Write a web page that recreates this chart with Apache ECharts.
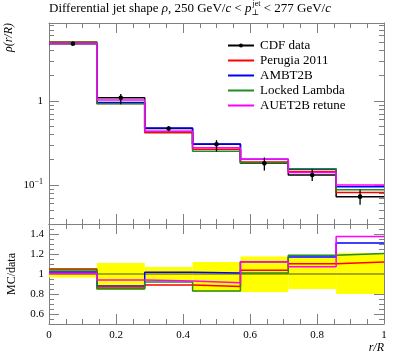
<!DOCTYPE html>
<html><head><meta charset="utf-8">
<script src="https://cdn.jsdelivr.net/npm/echarts@6/dist/echarts.min.js"></script>
<style>html,body{margin:0;padding:0;background:#fff}#c{width:397px;height:358px}</style>
</head><body><div id="c"></div>
<script>
// ---- data ----
const binEdges = [0, 0.142857, 0.285714, 0.428571, 0.571429, 0.714286, 0.857143, 1];
const cdfData = [4.81, 1.09, 0.47, 0.305, 0.181, 0.1315, 0.0726];
const cdfRelLow = [0.965, 0.84, 0.93, 0.82, 0.82, 0.85, 0.80];
const cdfRelHigh = [1.06, 1.11, 1.07, 1.12, 1.175, 1.16, 1.21];
const perugia2011 = [5.05, 0.937, 0.418, 0.267, 0.188, 0.145, 0.0813];
const ambt2b = [4.91, 0.959, 0.478, 0.308, 0.203, 0.154, 0.0951];
const lockedLambda = [5.00, 0.927, 0.432, 0.253, 0.183, 0.156, 0.0875];
const auet2bRetune = [4.83, 1.025, 0.437, 0.278, 0.203, 0.141, 0.0998];
const xTickLabels = [0, 0.2, 0.4, 0.6, 0.8, 1];
const logMajorTicks = [0.1, 1];
const logMinorTicks = [0.04,0.05,0.06,0.07,0.08,0.09,0.2,0.3,0.4,0.5,0.6,0.7,0.8,0.9,2,3,4,5,6,7,8];
const ratioMajorTicks = [0.6, 0.8, 1, 1.2, 1.4];
const ratioMinorTicks = [0.55,0.65,0.7,0.75,0.85,0.9,0.95,1.05,1.1,1.15,1.25,1.3,1.35,1.45];

const mcSeries = [
  {name: 'Perugia 2011', values: perugia2011, color: '#ff0000'},
  {name: 'AMBT2B', values: ambt2b, color: '#0000ff'},
  {name: 'Locked Lambda', values: lockedLambda, color: '#228b22'},
  {name: 'AUET2B retune', values: auet2bRetune, color: '#ff00ff'}
];

const SERIF = '"Liberation Serif", "DejaVu Serif", serif';
const AX = '#808080';

function stepData(vals) {
  return binEdges.map((e, i) => [e, vals[Math.min(i, vals.length - 1)]]);
}
const centers = cdfData.map((v, i) => (binEdges[i] + binEdges[i + 1]) / 2);

function xAxisCfg(grid, pos, labels) {
  return {
    type: 'value', gridIndex: grid, position: pos, min: 0, max: 1, interval: 0.2,
    axisLine: {show: true, lineStyle: {color: AX, width: 1}},
    axisTick: {show: true, inside: true, length: 10, lineStyle: {color: AX}},
    minorTick: {show: true, splitNumber: 4, length: 5, lineStyle: {color: AX}},
    splitLine: {show: false}, minorSplitLine: {show: false},
    axisLabel: {show: labels, margin: 6, color: '#000', fontFamily: SERIF, fontSize: 11,
      formatter: v => String(v)}
  };
}
function yLogCfg(pos, ticks, len, labels, line) {
  return {
    type: 'log', logBase: 10, gridIndex: 0, position: pos, min: 0.0343, max: 8.49,
    axisLine: {show: line, lineStyle: {color: AX, width: 1}},
    axisTick: {show: true, inside: true, length: len, customValues: ticks, lineStyle: {color: AX}},
    splitLine: {show: false},
    axisLabel: {show: labels, customValues: logMajorTicks, margin: 6, color: '#000',
      fontFamily: SERIF, fontSize: 11,
      formatter: v => (Math.abs(v - 1) < 1e-9 ? '1' : '10{s|−1}'),
      rich: {s: {fontSize: 8, verticalAlign: 'top', padding: [0,0,6,0], fontFamily: SERIF}}}
  };
}
function yRatioCfg(pos, ticks, len, labels, line) {
  return {
    type: 'value', gridIndex: 1, position: pos, min: 0.5, max: 1.5,
    axisLine: {show: line, lineStyle: {color: AX, width: 1}},
    axisTick: {show: true, inside: true, length: len, customValues: ticks, lineStyle: {color: AX}},
    splitLine: {show: false},
    axisLabel: {show: labels, customValues: ratioMajorTicks, margin: 5, color: '#000',
      fontFamily: SERIF, fontSize: 11, formatter: v => String(+v.toFixed(2))}
  };
}

const series = [];
// ratio band
series.push({
  type: 'custom', xAxisIndex: 2, yAxisIndex: 4, z: 1, silent: true,
  data: cdfData.map((v, i) => [binEdges[i], binEdges[i + 1], cdfRelLow[i], cdfRelHigh[i]]),
  renderItem(params, api) {
    const a = api.coord([api.value(0), api.value(3)]);
    const b = api.coord([api.value(1), api.value(2)]);
    return {type: 'rect', shape: {x: a[0], y: a[1], width: b[0] - a[0], height: b[1] - a[1]},
      style: {fill: '#ffff00'}};
  }
});
// data reference line in ratio
series.push({
  type: 'line', xAxisIndex: 2, yAxisIndex: 4, step: 'end', symbol: 'none', z: 2, silent: true,
  data: stepData(cdfData.map(() => 1)),
  lineStyle: {color: '#000', width: 1.3, opacity: 0.45}
});
// data step line (upper)
series.push({
  name: 'CDF data', type: 'line', xAxisIndex: 0, yAxisIndex: 0, step: 'end',
  symbol: 'circle', symbolSize: 4, showSymbol: false, z: 3,
  data: stepData(cdfData), itemStyle: {color: '#000'},
  lineStyle: {color: '#000', width: 1.5}
});
mcSeries.forEach(s => {
  series.push({
    name: s.name, type: 'line', xAxisIndex: 0, yAxisIndex: 0, step: 'end', symbol: 'none', z: 3,
    data: stepData(s.values), itemStyle: {color: s.color}, lineStyle: {color: s.color, width: 1.5}
  });
  series.push({
    name: s.name, type: 'line', xAxisIndex: 2, yAxisIndex: 4, step: 'end', symbol: 'none', z: 3,
    data: stepData(s.values.map((v, i) => v / cdfData[i])),
    itemStyle: {color: s.color}, lineStyle: {color: s.color, width: 1.5}
  });
});
// data points + error bars
series.push({
  type: 'custom', xAxisIndex: 0, yAxisIndex: 0, z: 5, silent: true,
  data: cdfData.map((v, i) => [centers[i], v, v * cdfRelLow[i], v * cdfRelHigh[i]]),
  renderItem(params, api) {
    const p = api.coord([api.value(0), api.value(1)]);
    const lo = api.coord([api.value(0), api.value(2)]);
    const hi = api.coord([api.value(0), api.value(3)]);
    return {type: 'group', children: [
      {type: 'line', shape: {x1: p[0], y1: lo[1], x2: p[0], y2: hi[1]}, style: {stroke: '#000', lineWidth: 1.3}},
      {type: 'circle', shape: {cx: p[0], cy: p[1], r: 2.3}, style: {fill: '#000'}}
    ]};
  }
});

const legendData = [{name: 'CDF data'}].concat(mcSeries.map(s => ({
  name: s.name, itemStyle: {opacity: 0, borderWidth: 0}
})));

const chart = echarts.init(document.getElementById('c'), null, {renderer: 'canvas'});
chart.setOption({
  animation: false,
  backgroundColor: '#fff',
  title: {
    left: 49, top: 0, padding: 0,
    text: '{n|Differential jet shape }{i|ρ}{n|, 250 GeV/}{i|c}{n| < }{i|p}{sub|⊥}{sup|jet}{n| < 277 GeV/}{i|c}',
    textStyle: {
      fontWeight: 'normal',
      rich: {
        n: {fontFamily: SERIF, fontSize: 13, fontWeight: 'normal', color: '#000', lineHeight: 17, verticalAlign: 'middle'},
        i: {fontFamily: SERIF, fontSize: 13, fontWeight: 'normal', fontStyle: 'italic', color: '#000', lineHeight: 17, verticalAlign: 'middle'},
        sub: {fontFamily: SERIF, fontSize: 8, fontWeight: 'normal', color: '#000', lineHeight: 8, verticalAlign: 'bottom', width: 1},
        sup: {fontFamily: SERIF, fontSize: 8, fontWeight: 'normal', color: '#000', lineHeight: 8, verticalAlign: 'top'}
      }
    }
  },
  legend: {
    orient: 'vertical', left: 227, top: 38, padding: 0, itemWidth: 26, itemHeight: 5, itemGap: 0,
    data: legendData,
    textStyle: {fontFamily: SERIF, fontSize: 13, color: '#000', lineHeight: 15, padding: [0, 0, 0, 1]},
    selectedMode: false
  },
  grid: [
    {left: 49, right: 13, top: 23, height: 201},
    {left: 49, right: 13, top: 224, height: 100}
  ],
  xAxis: [
    xAxisCfg(0, 'bottom', false), xAxisCfg(0, 'top', false),
    xAxisCfg(1, 'bottom', true), xAxisCfg(1, 'top', false)
  ],
  yAxis: [
    yLogCfg('left', logMajorTicks, 10, true, true),
    yLogCfg('left', logMinorTicks, 5, false, false),
    yLogCfg('right', logMajorTicks, 10, false, true),
    yLogCfg('right', logMinorTicks, 5, false, false),
    yRatioCfg('left', ratioMajorTicks, 10, true, true),
    yRatioCfg('left', ratioMinorTicks, 5, false, false),
    yRatioCfg('right', ratioMajorTicks, 10, false, true),
    yRatioCfg('right', ratioMinorTicks, 5, false, false)
  ],
  series: series,
  graphic: [
    {type: 'text', x: 9, y: 23, rotation: Math.PI / 2,
      style: {text: 'ρ(r/R)', font: 'italic 12px ' + SERIF, fill: '#000', align: 'right', verticalAlign: 'middle'}},
    {type: 'text', x: 12, y: 274, rotation: Math.PI / 2,
      style: {text: 'MC/data', font: '12px ' + SERIF, fill: '#000', align: 'center', verticalAlign: 'middle'}},
    {type: 'text', x: 384, y: 348,
      style: {text: 'r/R', font: 'italic 12px ' + SERIF, fill: '#000', align: 'right', verticalAlign: 'middle'}}
  ]
});
</script></body></html>
